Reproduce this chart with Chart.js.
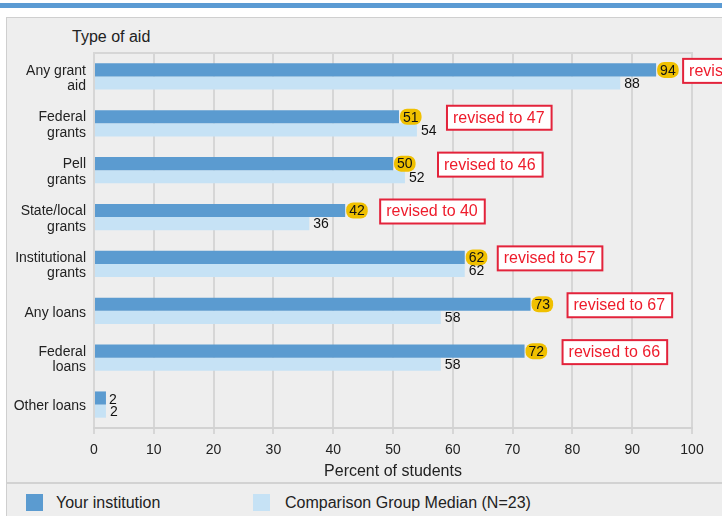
<!DOCTYPE html>
<html>
<head>
<meta charset="utf-8">
<script src="https://cdn.jsdelivr.net/npm/chart.js@4.4.0/dist/chart.umd.min.js"></script>
<style>
  html, body { margin: 0; padding: 0; width: 722px; height: 516px; overflow: hidden; background: #fff;
    font-family: "Liberation Sans", Arial, sans-serif; color: #222; }
  #topbar { position: absolute; left: 0; top: 3px; width: 722px; height: 5px; background: #5b9bd3; }
  #panel { position: absolute; left: 6px; top: 17px; width: 740px; height: 520px; background: #eeeeee;
    border-left: 1px solid #cfcfcf; border-top: 1px solid #cfcfcf; }
  #wrap { position: absolute; left: 6px; top: 18px; width: 760px; height: 465px; }
  #ytitle { position: absolute; left: 72px; top: 27px; font-size: 16px; line-height: 19px; }
  #sep { position: absolute; left: 7px; top: 482px; width: 720px; height: 2px; background: #d2d2d2; }
  .sw { position: absolute; top: 494px; width: 17px; height: 17px; }
  .lt { position: absolute; top: 493px; font-size: 16px; line-height: 19px; }
</style>
</head>
<body>
<div id="topbar"></div>
<div id="panel"></div>
<div id="ytitle">Type of aid</div>
<div id="wrap"><canvas id="chart"></canvas></div>
<div id="sep"></div>
<div class="sw" style="left:26px;background:#5b9bd0"></div>
<div class="lt" style="left:56px">Your institution</div>
<div class="sw" style="left:253px;background:#c6e2f5"></div>
<div class="lt" style="left:285px">Comparison Group Median (N=23)</div>

<script>
// data
const categories = [
  ['Any grant', 'aid'], ['Federal', 'grants'], ['Pell', 'grants'], ['State/local', 'grants'],
  ['Institutional', 'grants'], 'Any loans', ['Federal', 'loans'], 'Other loans'
];
const yourInstitution  = [94, 51, 50, 42, 62, 73, 72, 2];
const comparisonMedian = [88, 54, 52, 36, 62, 58, 58, 2];
const revisedTo        = [87, 47, 46, 40, 57, 67, 66, null];
const xTicks = [0, 10, 20, 30, 40, 50, 60, 70, 80, 90, 100];

// where the red notes sit, px right of the bar end
const NOTE_OFFSET = [27, 48, 45, 35, 33, 37, 38, 0];

const FONT = '"Liberation Sans", Arial, sans-serif';

const plotBorder = {
  id: 'plotBorder',
  beforeDatasetsDraw(chart) {
    const { ctx, chartArea } = chart;
    ctx.save();
    ctx.strokeStyle = '#d6d6d6';
    ctx.lineWidth = 2;
    ctx.beginPath();
    ctx.moveTo(chartArea.left - 1, chartArea.top);
    ctx.lineTo(chartArea.right + 1, chartArea.top);
    ctx.stroke();
    ctx.restore();
  }
};

const valueLabels = {
  id: 'valueLabels',
  afterDatasetsDraw(chart) {
    const ctx = chart.ctx;
    const dark = chart.getDatasetMeta(0).data;
    const light = chart.getDatasetMeta(1).data;
    ctx.save();
    ctx.textBaseline = 'middle';
    ctx.textAlign = 'left';
    dark.forEach((bar, i) => {
      ctx.font = '14px ' + FONT;
      const txt = String(yourInstitution[i]);
      const w = ctx.measureText(txt).width;
      if (revisedTo[i] != null) {
        ctx.fillStyle = '#f0c000';
        ctx.beginPath();
        ctx.roundRect(bar.x + 1, bar.y - 8, w + 6, 16, 7);
        ctx.fill();
        ctx.fillStyle = '#111';
        ctx.fillText(txt, bar.x + 4, bar.y + 1);

        // red note
        ctx.font = '16px ' + FONT;
        const note = 'revised to ' + revisedTo[i];
        const nw = ctx.measureText(note).width + 13;
        const nx = bar.x + NOTE_OFFSET[i];
        const ny = bar.y - 11;
        ctx.fillStyle = '#fff';
        ctx.fillRect(nx, ny, nw, 24);
        ctx.strokeStyle = '#e3233b';
        ctx.lineWidth = 2;
        ctx.strokeRect(nx, ny, nw, 24);
        ctx.fillStyle = '#ee1c2c';
        ctx.fillText(note, nx + 6, ny + 12.5);
      } else {
        ctx.fillStyle = '#111';
        ctx.fillText(txt, bar.x + 3, bar.y + 2);
      }
    });
    ctx.font = '14px ' + FONT;
    ctx.fillStyle = '#111';
    light.forEach((bar, i) => {
      ctx.fillText(String(comparisonMedian[i]), bar.x + 4, bar.y + 1);
    });
    ctx.restore();
  }
};

new Chart(document.getElementById('chart'), {
  type: 'bar',
  data: {
    labels: categories,
    datasets: [
      { label: 'Your institution', data: yourInstitution, backgroundColor: '#5b9bd0' },
      { label: 'Comparison Group Median (N=23)', data: comparisonMedian, backgroundColor: '#c6e2f5' }
    ]
  },
  options: {
    indexAxis: 'y',
    responsive: true,
    maintainAspectRatio: false,
    animation: false,
    layout: { padding: { top: 35, right: 74, left: 0, bottom: 0 } },
    datasets: { bar: { categoryPercentage: 0.56, barPercentage: 1 } },
    plugins: { legend: { display: false }, tooltip: { enabled: false } },
    scales: {
      x: {
        min: 0, max: 100,
        afterFit(scale) { scale.height = 55; },
        afterBuildTicks(scale) { scale.ticks = xTicks.map(v => ({ value: v })); },
        grid: { color: '#d6d6d6', lineWidth: 2, tickLength: 6, drawTicks: true },
        border: { color: '#d2d2d2', width: 2 },
        ticks: { color: '#222', font: { family: FONT, size: 14 }, padding: 8, maxRotation: 0 },
        title: { display: true, text: 'Percent of students', color: '#222',
                 font: { family: FONT, size: 16 }, padding: { top: 0, bottom: 2 } }
      },
      y: {
        afterFit(scale) { scale.width = 88; },
        grid: { display: false, drawTicks: false },
        border: { display: false },
        ticks: { color: '#222', font: { family: FONT, size: 14, lineHeight: 1.1 }, padding: 8, labelOffset: 2 }
      }
    }
  },
  plugins: [plotBorder, valueLabels]
});
</script>
</body>
</html>
